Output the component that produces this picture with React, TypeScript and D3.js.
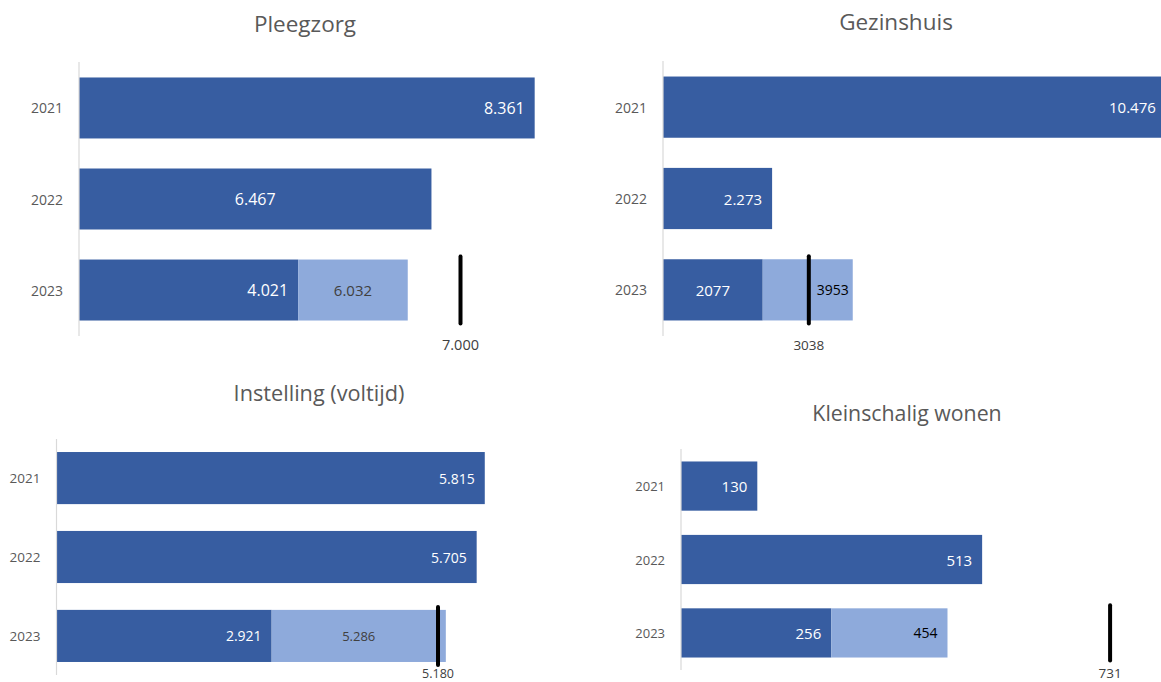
import * as d3 from 'd3';
import React from 'react';

const W = 1161;
const H = 682;

// values per panel (2021, 2022, 2023 realised); 2023 also has a projected total and a target
const years = ['2021', '2022', '2023'];

const pleegzorgValues = [8361, 6467, 4021];
const pleegzorgTotal2023 = 6032;
const pleegzorgTarget = 7000;

const gezinshuisValues = [10476, 2273, 2077];
const gezinshuisTotal2023 = 3953;
const gezinshuisTarget = 3038;

const instellingValues = [5815, 5705, 2921];
const instellingTotal2023 = 5286;
const instellingTarget = 5180;

const kleinschaligValues = [130, 513, 256];
const kleinschaligTotal2023 = 454;
const kleinschaligTarget = 731;

const DARK = '#375da1';
const LIGHT = '#8eaadb';
const GREY = '#595959';
const FONT = '"Open Sans", "Noto Sans", sans-serif';

const nl = d3.formatLocale({ decimal: ',', thousands: '.', grouping: [3], currency: ['€', ''] });
const fmtGrouped = nl.format(',d');
const fmtPlain = d3.format('d');

type Mode = 'end' | 'tight' | 'center';

type Panel = {
  title: string;
  values: number[];
  total: number;
  target: number;
  domain: [number, number];
  xRange: [number, number];
  yRange: [number, number];
  padInner: number;
  padOuter: number;
  titleX: number;
  titleY: number;
  titleSize: number;
  valueSize: number;
  yearSize: number;
  targetLabelY: number;
  modes: Mode[]; // 2021, 2022, 2023 dark, 2023 light
  lightText: string;
  fmt2023: (n: number) => string;
};

const panels: Panel[] = [
  {
    title: 'Pleegzorg',
    values: pleegzorgValues,
    total: pleegzorgTotal2023,
    target: pleegzorgTarget,
    domain: [0, 10000],
    xRange: [79, 624],
    yRange: [62, 336],
    padInner: 0.33,
    padOuter: 0.17,
    titleX: 305,
    titleY: 32,
    titleSize: 22.5,
    valueSize: 16,
    yearSize: 14,
    targetLabelY: 350,
    modes: ['end', 'center', 'end', 'center'],
    lightText: '#404040',
    fmt2023: fmtGrouped,
  },
  {
    title: 'Gezinshuis',
    values: gezinshuisValues,
    total: gezinshuisTotal2023,
    target: gezinshuisTarget,
    domain: [0, 10000],
    xRange: [663, 1143],
    yRange: [61, 336],
    padInner: 0.33,
    padOuter: 0.17,
    titleX: 896,
    titleY: 30,
    titleSize: 22.5,
    valueSize: 15,
    yearSize: 14,
    targetLabelY: 350,
    modes: ['end', 'end', 'center', 'tight'],
    lightText: '#000000',
    fmt2023: fmtPlain,
  },
  {
    title: 'Instelling (voltijd)',
    values: instellingValues,
    total: instellingTotal2023,
    target: instellingTarget,
    domain: [0, 6000],
    xRange: [56.5, 498.4],
    yRange: [439, 675],
    padInner: 0.34,
    padOuter: 0.165,
    titleX: 319,
    titleY: 401,
    titleSize: 21.7,
    valueSize: 14,
    yearSize: 13.5,
    targetLabelY: 678,
    modes: ['end', 'end', 'end', 'center'],
    lightText: '#404040',
    fmt2023: fmtGrouped,
  },
  {
    title: 'Kleinschalig wonen',
    values: kleinschaligValues,
    total: kleinschaligTotal2023,
    target: kleinschaligTarget,
    domain: [0, 800],
    xRange: [681, 1150.6],
    yRange: [449, 670],
    padInner: 0.33,
    padOuter: 0.17,
    titleX: 907,
    titleY: 421,
    titleSize: 21.3,
    valueSize: 15,
    yearSize: 13,
    targetLabelY: 678,
    modes: ['end', 'end', 'end', 'end'],
    lightText: '#000000',
    fmt2023: fmtPlain,
  },
];

function BarPanel({ p }: { p: Panel }) {
  const x = d3.scaleLinear().domain(p.domain).range(p.xRange);
  const y = d3
    .scaleBand<string>()
    .domain(years)
    .range(p.yRange)
    .paddingInner(p.padInner)
    .paddingOuter(p.padOuter);
  const bw = y.bandwidth();
  const x0 = x(0);

  const labelX = (from: number, to: number, mode: Mode) =>
    mode === 'end' ? to - 10 : mode === 'tight' ? to - 4 : (from + to) / 2;

  const bars = p.values.map((v, i) => ({
    year: years[i],
    x0,
    x1: x(v),
    text: i === 2 ? p.fmt2023(v) : fmtGrouped(v),
    mode: p.modes[i],
    fill: DARK,
    color: '#ffffff',
  }));
  const y23 = y('2023')!;
  const light = {
    year: '2023',
    x0: x(p.values[2]),
    x1: x(p.total),
    text: p.fmt2023(p.total),
    mode: p.modes[3],
    fill: LIGHT,
    color: p.lightText,
  };
  const all = [...bars, light];
  const tx = x(p.target);

  return (
    <g>
      <text
        x={p.titleX}
        y={p.titleY}
        textAnchor="middle"
        fontSize={p.titleSize}
        fill={GREY}
        fontFamily={FONT}
      >
        {p.title}
      </text>
      {all.map((b, i) => (
        <rect key={'r' + i} x={b.x0} y={y(b.year)} width={b.x1 - b.x0} height={bw} fill={b.fill} />
      ))}
      <line x1={x0} x2={x0} y1={p.yRange[0]} y2={p.yRange[1]} stroke="#d9d9d9" strokeWidth={1.2} />
      {years.map((yr) => (
        <text
          key={yr}
          x={x0 - 16}
          y={y(yr)! + bw / 2}
          textAnchor="end"
          dominantBaseline="central"
          fontSize={p.yearSize}
          fill={GREY}
          fontFamily={FONT}
        >
          {yr}
        </text>
      ))}
      <line
        x1={tx}
        x2={tx}
        y1={y23 - 3}
        y2={y23 + bw + 3}
        stroke="#000"
        strokeWidth={4}
        strokeLinecap="round"
      />
      {all.map((b, i) => (
        <text
          key={'t' + i}
          x={labelX(b.x0, b.x1, b.mode)}
          y={y(b.year)! + bw / 2}
          textAnchor={b.mode === 'center' ? 'middle' : 'end'}
          dominantBaseline="central"
          fontSize={i === 3 ? p.valueSize - 1 : p.valueSize}
          fill={b.color}
          fontFamily={FONT}
        >
          {b.text}
        </text>
      ))}
      <text
        x={tx}
        y={p.targetLabelY}
        textAnchor="middle"
        fontSize={p.valueSize - 1.5}
        fill="#404040"
        fontFamily={FONT}
      >
        {p.fmt2023 === fmtPlain ? fmtPlain(p.target) : fmtGrouped(p.target)}
      </text>
    </g>
  );
}

export default function App() {
  return (
    <svg
      width={W}
      height={H}
      viewBox={`0 0 ${W} ${H}`}
      style={{ position: 'absolute', left: 0, top: 0, background: '#fff' }}
    >
      <rect width={W} height={H} fill="#fff" />
      {panels.map((p) => (
        <BarPanel key={p.title} p={p} />
      ))}
    </svg>
  );
}
